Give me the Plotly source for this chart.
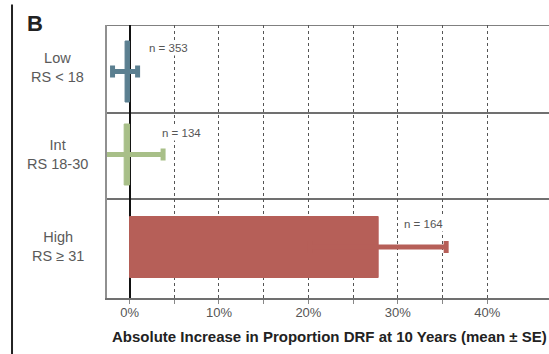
import plotly.graph_objects as go

# Recurrence-score groups and their absolute increase in 10-year DRF (%)
groups = ["Low", "Int", "High"]
group_labels = ["Low<br>RS < 18", "Int<br>RS 18-30", "High<br>RS \u2265 31"]
mean_increase = [-0.5, -0.6, 27.8]
std_error = [1.4, 4.35, 7.6]
n_labels = ["n = 353", "n = 134", "n = 164"]
colors = ["#5b7f90", "#a8bf88", "#b65f58"]

tick_vals = [0, 10, 20, 30, 40]
tick_text = ["0%", "10%", "20%", "30%", "40%"]
minor_vals = [5, 15, 25, 35]

# Layout: the y axis runs in pixel-like units from the top of the frame (0) to the bottom (273)
row_centers = [46.5, 129.5, 222]
row_bounds = [88, 174]
label_y = [42, 129, 221]
n_pos = [(2.0, 23), (3.4, 108), (30.5, 199)]
bar_width = 61

fig = go.Figure()
for g, m, se, c, yc in zip(groups, mean_increase, std_error, colors, row_centers):
    fig.add_trace(go.Bar(
        x=[m], y=[yc], orientation="h", width=bar_width, name=g,
        marker=dict(color=c, line=dict(color=c, width=1)),
        error_x=dict(type="data", array=[se], color=c, thickness=5, width=6),
        showlegend=False, hoverinfo="skip",
    ))

shapes = [
    # top border and row separators
    dict(type="line", xref="paper", yref="y", x0=0, x1=1, y0=0, y1=0,
         line=dict(color="#808080", width=2), layer="below"),
]
for b in row_bounds:
    shapes.append(dict(type="line", xref="paper", yref="y", x0=0, x1=1, y0=b, y1=b,
                       line=dict(color="#707070", width=2), layer="below"))
# panel rule on the far left
shapes.append(dict(type="line", xref="paper", yref="paper", x0=-0.2149, x1=-0.2149,
                   y0=-0.21, y1=1.075, line=dict(color="#222222", width=2)))

annotations = []
for lbl, yl in zip(group_labels, label_y):
    annotations.append(dict(text=lbl, xref="paper", yref="y", x=-0.111, y=yl,
                            showarrow=False, align="center", xanchor="center", yanchor="middle",
                            font=dict(family="Liberation Sans, Arial", size=14.5, color="#5a5a5a")))
for lbl, (xp, yp) in zip(n_labels, n_pos):
    annotations.append(dict(text=lbl, xref="x", yref="y", x=xp, y=yp, showarrow=False,
                            xanchor="left", yanchor="middle", bgcolor="white", borderpad=1,
                            font=dict(family="Liberation Sans, Arial", size=11.5, color="#555555")))
annotations.append(dict(text="<b>Absolute Increase in Proportion DRF at 10 Years (mean \u00b1 SE)</b>",
                        xref="paper", yref="paper", x=0.5045, y=-0.14, showarrow=False,
                        xanchor="center", yanchor="middle",
                        font=dict(family="Liberation Sans Narrow, Arial Narrow, Liberation Sans", size=15,
                                  color="#222222")))
annotations.append(dict(text="<b>B</b>", xref="paper", yref="paper", x=-0.186, y=1.005,
                        showarrow=False, xanchor="left", yanchor="middle",
                        font=dict(family="Liberation Sans, Arial", size=22, color="#222222")))

fig.update_layout(
    width=549, height=354,
    margin=dict(l=107, r=0, t=25, b=56),
    paper_bgcolor="white", plot_bgcolor="white",
    barmode="overlay",
    shapes=shapes, annotations=annotations,
    xaxis=dict(
        range=[-2.52, 46.9], tickvals=tick_vals, ticktext=tick_text,
        showgrid=True, gridcolor="#555555", griddash="dot", gridwidth=1,
        minor=dict(tickvals=minor_vals, showgrid=True, gridcolor="#555555", griddash="dot",
                   gridwidth=1, ticks="outside", ticklen=4, tickcolor="#888888"),
        zeroline=True, zerolinecolor="#111111", zerolinewidth=2,
        showline=True, linecolor="#707070", linewidth=2,
        ticks="outside", ticklen=4, tickcolor="#888888", ticklabelstandoff=-3,
        tickfont=dict(family="Liberation Sans, Arial", size=13, color="#555555"),
        fixedrange=True,
    ),
    yaxis=dict(
        range=[273, 0], showticklabels=False, showgrid=False, zeroline=False,
        showline=True, linecolor="#909090", linewidth=2, ticks="", fixedrange=True,
    ),
)

fig.write_html("out.html")
